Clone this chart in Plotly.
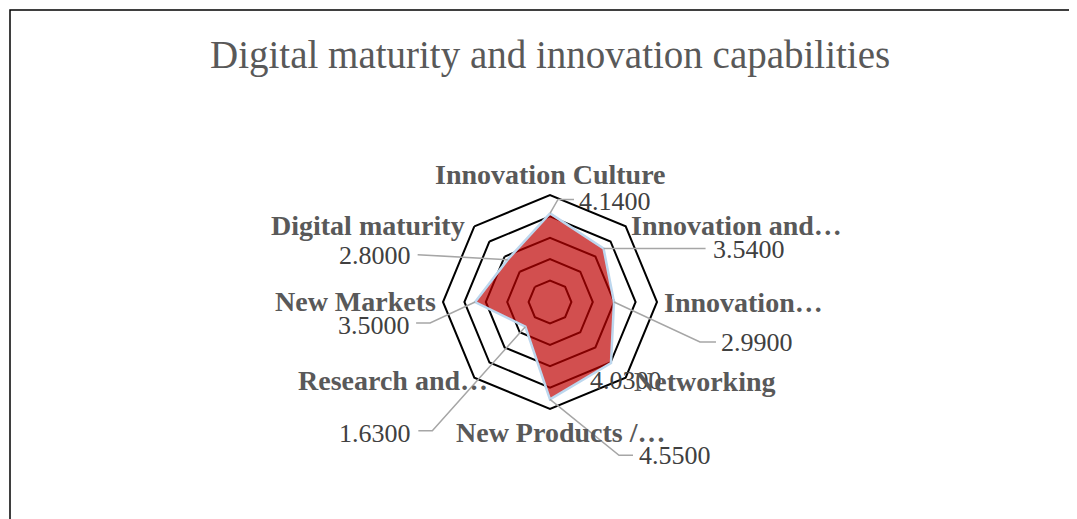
import math
import plotly.graph_objects as go

categories = ["Innovation Culture", "Innovation and…", "Innovation…", "Networking",
              "New Products /…", "Research and…", "New Markets", "Digital maturity"]
values = [4.14, 3.54, 2.99, 4.03, 4.55, 1.63, 3.50, 2.80]
value_labels = ["4.1400", "3.5400", "2.9900", "4.0300", "4.5500", "1.6300", "3.5000", "2.8000"]
title_text = "Digital maturity and innovation capabilities"

W, H = 1077, 519
OFF = 8                       # page body margin
CX, CY, R = 550 - OFF, 302 - OFF, 107   # polar centre and outer radius in px (paper)
RMAX = 5

# value label layout: (elbow dx, elbow dy, end dx, xanchor, label dx, label dy) relative to the data point
label_layout = [
    (8, -14, 24, "left", 27, -12),
    (102, 0, 102, "left", 107, 1),
    (86, 40, 102, "left", 105, 40),
    (None, None, None, "center", 15, 18),
    (69, 56, 83, "left", 87, 56),
    (-93, 104, -107, "right", -112, 107),
    (-45, 21, -59, "right", -63, 23),
    (-90, -5, -90, "right", -95, -4),
]
# category label layout: (xanchor, dx, dy) relative to the outer vertex
cat_layout = [
    ("center", 0, -21),
    ("left", 3, -1),
    ("left", 5, 0),
    ("left", 6, 4),
    ("center", 11, 23),
    ("right", 16, 3),
    ("right", -5, -1),
    ("right", -7, -1),
]

fig = go.Figure()
fig.add_trace(go.Scatterpolar(
    r=values + values[:1],
    theta=categories + categories[:1],
    mode="lines",
    fill="toself",
    fillcolor="rgba(190,0,0,0.69)",
    line=dict(color="#bdd7ee", width=2.5),
    hoverinfo="skip",
))


def px_to_paper(x, y):
    return x / W, 1 - y / H


shapes = []
annotations = []
n = len(categories)
for i, (cat, v, lab) in enumerate(zip(categories, values, value_labels)):
    ang = 2 * math.pi * i / n
    rp = v / RMAX * R
    px = CX + rp * math.sin(ang)
    py = CY - rp * math.cos(ang)
    ex, ey, endx, xa, ldx, ldy = label_layout[i]
    if ex is not None:
        p0 = px_to_paper(px, py)
        p1 = px_to_paper(px + ex, py + ey)
        p2 = px_to_paper(px + endx, py + ey)
        shapes.append(dict(type="path", xref="paper", yref="paper",
                           path=f"M {p0[0]} {p0[1]} L {p1[0]} {p1[1]} L {p2[0]} {p2[1]}",
                           line=dict(color="#a6a6a6", width=1.5)))
    lx, ly = px_to_paper(px + ldx, py + ldy)
    annotations.append(dict(x=lx, y=ly, xref="paper", yref="paper", text=lab,
                            showarrow=False, xanchor=xa, yanchor="middle",
                            font=dict(family="Liberation Serif", size=26, color="#404040")))
    # category label near the outer vertex
    vx = CX + R * math.sin(ang)
    vy = CY - R * math.cos(ang)
    cxa, cdx, cdy = cat_layout[i]
    cx, cy = px_to_paper(vx + cdx, vy + cdy)
    annotations.append(dict(x=cx, y=cy, xref="paper", yref="paper", text=f"<b>{cat}</b>",
                            showarrow=False, xanchor=cxa, yanchor="middle",
                            font=dict(family="Liberation Serif", size=28, color="#595959")))

annotations.append(dict(x=(550 - OFF) / W, y=1 - (55 - OFF) / H, xref="paper", yref="paper",
                        text=title_text, showarrow=False, xanchor="center", yanchor="middle",
                        font=dict(family="Liberation Serif", size=39, color="#595959")))

shapes.append(dict(type="rect", xref="paper", yref="paper",
                   x0=(10 - OFF) / W, y0=-0.05, x1=1.05, y1=1 - (10 - OFF) / H,
                   line=dict(color="black", width=1.5)))

fig.update_layout(
    width=W, height=H,
    margin=dict(l=0, r=0, t=0, b=0),
    paper_bgcolor="white",
    showlegend=False,
    polar=dict(
        domain=dict(x=[(CX - R) / W, (CX + R) / W], y=[1 - (CY + R) / H, 1 - (CY - R) / H]),
        bgcolor="white",
        gridshape="linear",
        radialaxis=dict(range=[0, RMAX], dtick=1, showticklabels=False, ticks="",
                        showline=False, gridcolor="black", gridwidth=2),
        angularaxis=dict(direction="clockwise", rotation=90, showgrid=False, ticks="",
                         showticklabels=False,
                         showline=True, linecolor="black", linewidth=2),
    ),
    shapes=shapes,
    annotations=annotations,
)

fig.write_html("out.html")
